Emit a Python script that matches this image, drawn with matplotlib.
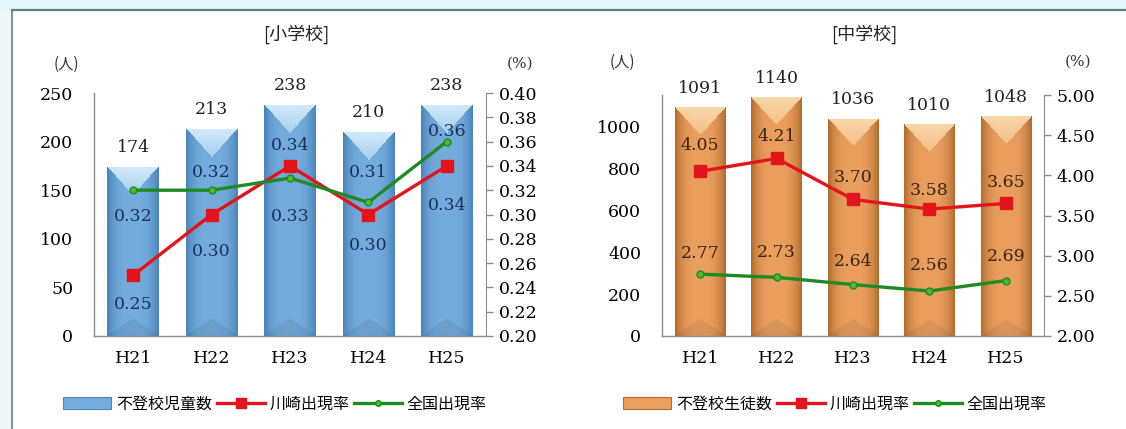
import numpy as np
import matplotlib.pyplot as plt
from matplotlib.patches import Patch, Rectangle
from matplotlib.lines import Line2D
from matplotlib.colors import to_rgb

# データ
years = ['H21', 'H22', 'H23', 'H24', 'H25']

sho_count = [174, 213, 238, 210, 238]
sho_kawasaki = [0.25, 0.30, 0.34, 0.30, 0.34]
sho_zenkoku = [0.32, 0.32, 0.33, 0.31, 0.36]

chu_count = [1091, 1140, 1036, 1010, 1048]
chu_kawasaki = [4.05, 4.21, 3.70, 3.58, 3.65]
chu_zenkoku = [2.77, 2.73, 2.64, 2.56, 2.69]

NUM_FONT = 'DejaVu Serif'
JP_FONT = ['Noto Sans CJK JP', 'DejaVu Sans']
RED = '#E3141C'
GREEN = '#1F8A24'
FS = 12.5


def gradient_bars(ax, bars, base, light, dark):
    # 棒を横グラデーション＋上部の三角ハイライトで塗る
    fig = ax.figure
    fig.canvas.draw()
    base, light, dark = np.array(to_rgb(base)), np.array(to_rgb(light)), np.array(to_rgb(dark))
    for b in bars:
        x0, y0 = b.get_x(), b.get_y()
        w, h = b.get_width(), b.get_height()
        (px0, py0), (px1, py1) = ax.transData.transform([(x0, y0), (x0 + w, y0 + h)])
        wpx, hpx = int(round(px1 - px0)), int(round(py1 - py0))
        u = np.linspace(0, 1, wpx)[None, :]
        v = np.arange(hpx)[:, None]
        edge = np.abs(2 * u - 1) ** 3
        img = base * (1 - edge[..., None]) + dark * edge[..., None]
        img = np.broadcast_to(img, (hpx, wpx, 3)).copy()
        depth = wpx * 0.55
        chev = v < depth * (1 - np.abs(2 * u - 1))
        t = np.clip(1 - v / depth, 0, 1)
        mix = (chev * (0.55 + 0.45 * t))[..., None]
        img = img * (1 - mix) + light * mix
        bot = (hpx - 1 - v) < depth * 0.6 * (1 - np.abs(2 * u - 1))
        img[bot] = img[bot] * 0.93
        im = ax.imshow(img, extent=(x0, x0 + w, y0, y0 + h), aspect='auto',
                       origin='upper', zorder=2, interpolation='bilinear')
        im.set_clip_path(b)
        b.set_facecolor('none')


def draw_chart(ax, counts, kawa, zen, ylim, yticks, y2lim, y2ticks, y2fmt,
               colors, label_color, kawa_off, zen_off):
    x = np.arange(len(years))
    bars = ax.bar(x, counts, width=0.66, color=colors[0], zorder=2, linewidth=0)
    ax.set_xlim(-0.5, len(years) - 0.5)
    ax.set_ylim(*ylim)
    ax.set_yticks(yticks)
    ax.set_xticks(x)
    ax.set_xticklabels(years, fontfamily=NUM_FONT, fontsize=FS)
    ax.tick_params(axis='x', length=0, pad=10)
    ax.tick_params(axis='y', length=0, pad=15, labelsize=FS)
    for lab in ax.get_yticklabels():
        lab.set_fontfamily(NUM_FONT)
    for s in ['top', 'right']:
        ax.spines[s].set_visible(False)
    for s in ['left', 'bottom']:
        ax.spines[s].set_color('#8C8C8C')
        ax.spines[s].set_linewidth(1.0)
    for xi, c in zip(x, counts):
        ax.annotate(str(c), (xi, c), xytext=(0, 19), textcoords='offset pixels',
                    ha='center', va='center', fontfamily=NUM_FONT, fontsize=FS, color='#222222')

    ax2 = ax.twinx()
    ax2.set_ylim(*y2lim)
    ax2.set_yticks(y2ticks)
    ax2.set_yticklabels([y2fmt.format(t) for t in y2ticks], fontfamily=NUM_FONT, fontsize=FS)
    ax2.tick_params(axis='y', length=5, width=1, color='#8C8C8C', pad=4)
    for s in ['top', 'left', 'bottom']:
        ax2.spines[s].set_visible(False)
    ax2.spines['right'].set_color('#8C8C8C')
    ax2.plot(x, kawa, color=RED, lw=2.4, marker='s', ms=8, mfc=RED, mec=RED, zorder=4)
    ax2.plot(x, zen, color=GREEN, lw=2.4, marker='o', ms=5, mfc='#4FB82E', mec=GREEN, zorder=5)
    for xi, val, off in zip(x, kawa, kawa_off):
        ax2.annotate(f'{val:.2f}', (xi, val), xytext=(0, off), textcoords='offset pixels',
                     ha='center', va='center', fontfamily=NUM_FONT, fontsize=FS, color=label_color)
    for xi, val, off in zip(x, zen, zen_off):
        ax2.annotate(f'{val:.2f}', (xi, val), xytext=(0, off), textcoords='offset pixels',
                     ha='center', va='center', fontfamily=NUM_FONT, fontsize=FS, color=label_color)

    gradient_bars(ax, bars, *colors)
    handles = [Patch(facecolor=colors[0], edgecolor=colors[2], linewidth=0.8),
               Line2D([], [], color=RED, lw=2.4, marker='s', ms=7, mfc=RED, mec=RED),
               Line2D([], [], color=GREEN, lw=2.4, marker='o', ms=4, mfc='#4FB82E', mec=GREEN)]
    return handles


fig = plt.figure(figsize=(11.26, 4.29), dpi=100)
fig.patch.set_facecolor('white')

# 背景の枠
fig.patches.append(Rectangle((0, 1 - 10 / 429), 1, 10 / 429, transform=fig.transFigure,
                             facecolor='#E4F8FB', edgecolor='none', zorder=0))
fig.patches.append(Rectangle((0, 0), 12 / 1126, 1 - 10 / 429, transform=fig.transFigure,
                             facecolor='#EEF7FA', edgecolor='none', zorder=0))
fig.lines.append(Line2D([12 / 1126, 1], [1 - 10 / 429, 1 - 10 / 429], transform=fig.transFigure,
                        color='#5E8282', lw=1.6))
fig.lines.append(Line2D([12 / 1126, 12 / 1126], [0, 1 - 10 / 429], transform=fig.transFigure,
                        color='#5E8282', lw=1.2))

ax1 = fig.add_axes([94 / 1126, 93 / 429, 392 / 1126, 243 / 429])
h1 = draw_chart(ax1, sho_count, sho_kawasaki, sho_zenkoku,
                (0, 250), [0, 50, 100, 150, 200, 250],
                (0.20, 0.40), np.round(np.arange(0.20, 0.401, 0.02), 2), '{:.2f}',
                ('#74ADDD', '#D2EBFB', '#4A84BA'), '#1E2F5C',
                [-29, -37, 20, -31, -40], [-26, 18, -38, 30, 10])

ax3 = fig.add_axes([662 / 1126, 93 / 429, 382 / 1126, 241 / 429])
h2 = draw_chart(ax3, chu_count, chu_kawasaki, chu_zenkoku,
                (0, 1150), [0, 200, 400, 600, 800, 1000],
                (2.0, 5.0), np.arange(2.0, 5.01, 0.5), '{:.2f}',
                ('#EA9F5F', '#FAD8AA', '#B36C2C'), '#3A2414',
                [26, 22, 22, 19, 21], [21, 25, 23, 26, 24])

fig.text(296 / 1126, 1 - 34 / 429, '[小学校]', ha='center', va='center',
         fontfamily=JP_FONT, fontsize=13, color='#222222')
fig.text(864 / 1126, 1 - 34 / 429, '[中学校]', ha='center', va='center',
         fontfamily=JP_FONT, fontsize=13, color='#222222')
fig.text(66 / 1126, 1 - 64 / 429, '(人)', ha='center', va='center',
         fontfamily=JP_FONT, fontsize=11, color='#333333')
fig.text(520 / 1126, 1 - 64 / 429, '(%)', ha='center', va='center',
         fontfamily=NUM_FONT, fontsize=11, color='#333333')
fig.text(622 / 1126, 1 - 62 / 429, '(人)', ha='center', va='center',
         fontfamily=JP_FONT, fontsize=11, color='#333333')
fig.text(1078 / 1126, 1 - 62 / 429, '(%)', ha='center', va='center',
         fontfamily=NUM_FONT, fontsize=11, color='#333333')

leg_kw = dict(loc='center', ncol=3, frameon=False, handlelength=3.0, handletextpad=0.3,
              columnspacing=0.3, prop={'family': JP_FONT, 'size': 11.5})
fig.legend(h1, ['不登校児童数', '川崎出現率', '全国出現率'],
           bbox_to_anchor=(275 / 1126, 1 - 404 / 429), **leg_kw)
fig.legend(h2, ['不登校生徒数', '川崎出現率', '全国出現率'],
           bbox_to_anchor=(835 / 1126, 1 - 404 / 429), **leg_kw)

fig.savefig('out.png', dpi=100)
